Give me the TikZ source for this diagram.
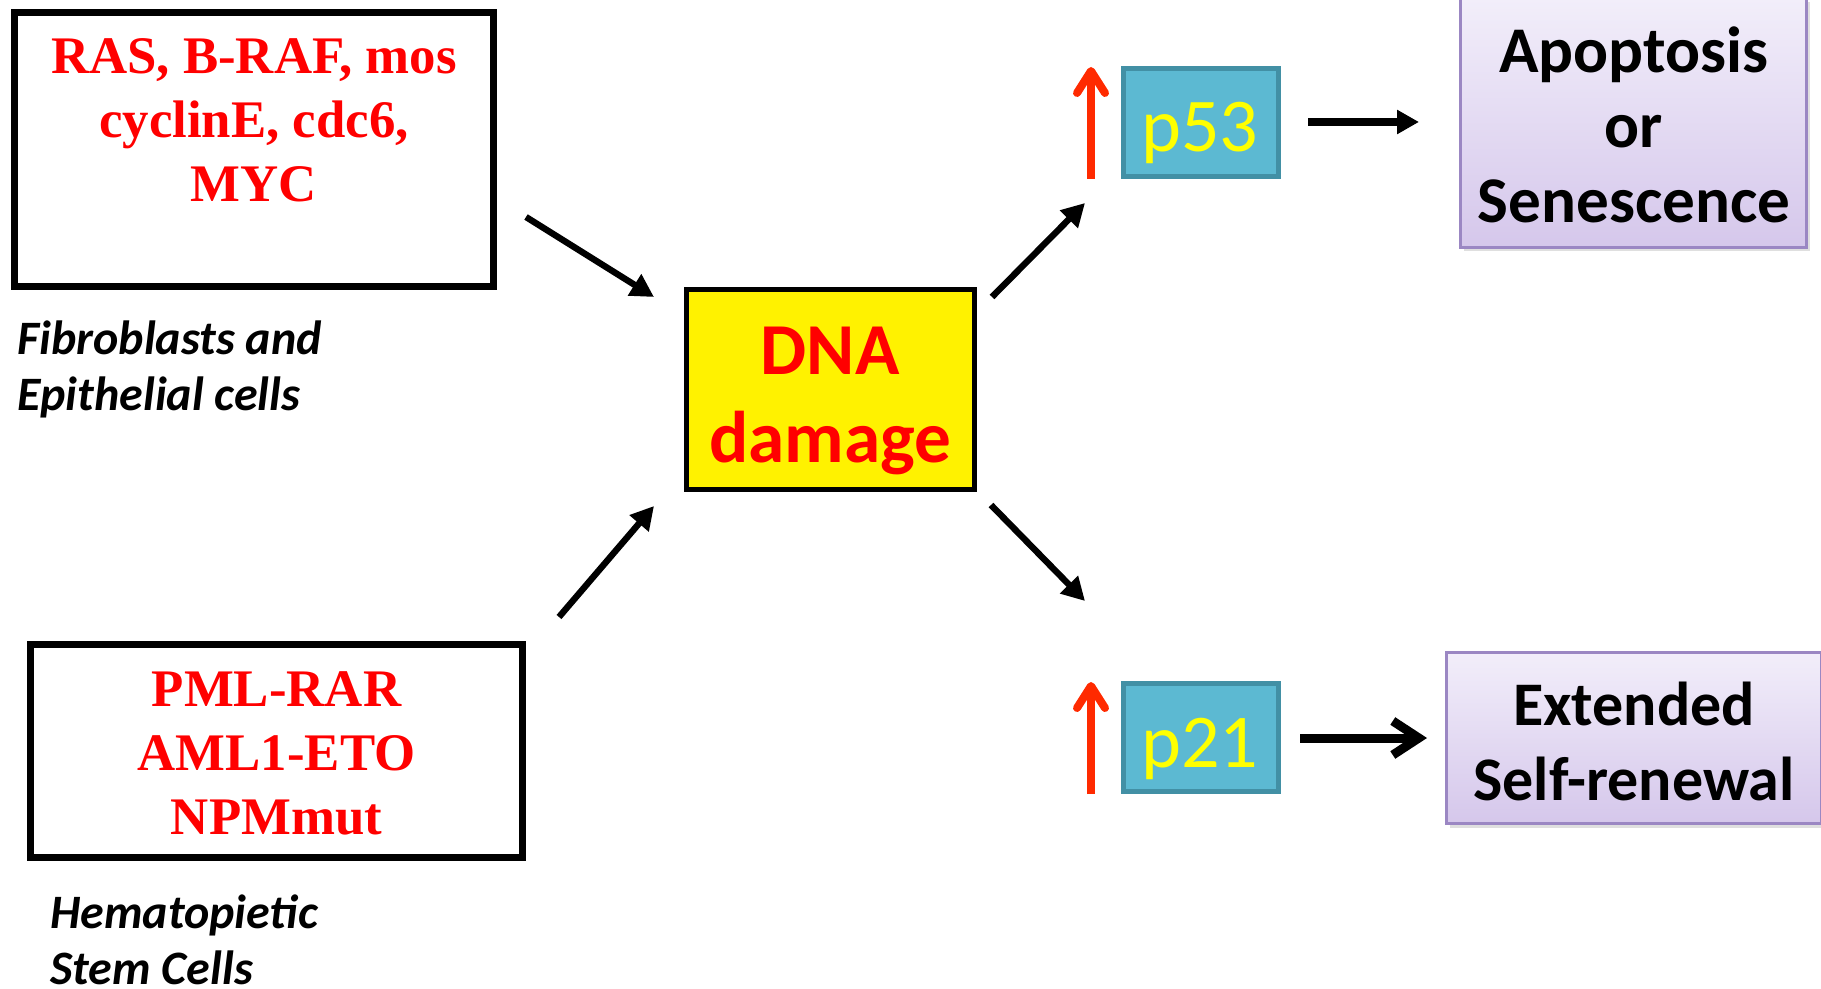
\documentclass[tikz,border=0pt]{standalone}
\usepackage{fontspec}
\setmainfont{Liberation Serif}
\newfontfamily\calib{Carlito}
\usetikzlibrary{arrows.meta,shadows}
\definecolor{redtxt}{RGB}{255,0,0}
\definecolor{uparrow}{RGB}{255,42,0}
\definecolor{pfill}{RGB}{92,185,210}
\definecolor{pborder}{RGB}{66,144,165}
\definecolor{ptxt}{RGB}{255,255,0}
\definecolor{lavtop}{RGB}{242,238,250}
\definecolor{lavbot}{RGB}{213,199,235}
\definecolor{lavborder}{RGB}{155,135,195}
\begin{document}
\begin{tikzpicture}[x=0.5pt,y=-0.5pt,
  oncobox/.style={draw=black, line width=3.5pt, rectangle, inner sep=0pt},
  redlist/.style={font=\fontsize{26.4}{32}\selectfont\bfseries, text=redtxt, align=center, inner sep=0pt},
  dnabox/.style={draw=black, line width=2.5pt, fill=yellow, rectangle, inner sep=0pt},
  dnatxt/.style={font=\calib\bfseries\fontsize{36.6}{44}\selectfont, text=redtxt, align=center, inner sep=0pt},
  pbox/.style={draw=pborder, line width=2.5pt, fill=pfill, rectangle, inner sep=0pt, minimum width=77.5pt, minimum height=54pt},
  ptext/.style={font=\calib\fontsize{38}{44}\selectfont, text=ptxt, inner sep=0pt},
  lavbox/.style={draw=lavborder, line width=1.5pt, top color=lavtop, bottom color=lavbot, rectangle, inner sep=0pt,
     drop shadow={shadow xshift=1.5pt, shadow yshift=-2pt, opacity=0.25}},
  restext/.style={font=\calib\bfseries\fontsize{32.6}{37.5}\selectfont, align=center, inner sep=0pt},
  celllabel/.style={font=\calib\bfseries\itshape\fontsize{24}{28}\selectfont, align=left, inner sep=0pt},
  blackarrow/.style={line width=3.2pt, -{Triangle[length=11.5pt,width=12pt]}},
  outarrow/.style={line width=4pt, -{Triangle[length=11pt,width=11.5pt]}},
  openarrow/.style={line width=4.5pt, -{Straight Barb[length=13pt,width=17pt]}},
  uparr/.style={draw=uparrow, line width=4pt, -{Straight Barb[length=11pt,width=14pt,round]}}
]
\fill[white] (0,0) rectangle (1821,989);
\useasboundingbox (0,0) rectangle (1821,989);

% oncogene boxes
\node[oncobox, minimum width=239.5pt, minimum height=137pt] (box1) at (254,149.5) {};
\node[redlist] (onco1) at (254,120) {RAS, B-RAF, mos\\cyclinE, cdc6,\\MYC};
\node[oncobox, minimum width=246pt, minimum height=106.5pt] (box2) at (276.5,751) {};
\node[redlist] (onco2) at (276.5,753.5) {PML-RAR\\AML1-ETO\\NPMmut};

\node[celllabel, anchor=base west] (lab1) at (17,411) {Fibroblasts and\\Epithelial cells};
\node[celllabel, anchor=base west] (lab2) at (50,984) {Hematopietic\\Stem Cells};

% DNA damage
\node[dnabox, minimum width=144pt, minimum height=100pt] (dna) at (830.5,389.5) {};
\node[dnatxt] (dnat) at (830,401) {DNA\\damage};

% p53 / p21
\node[pbox] (p53) at (1201,122.5) {};
\node[ptext, anchor=base] (p53t) at (1200,152) {p53};
\node[pbox] (p21) at (1201,737) {};
\node[ptext, anchor=base] (p21t) at (1200,767) {p21};

% outcomes
\node[lavbox, minimum width=173pt, minimum height=124.5pt] (apop) at (1633.5,123) {};
\node[restext, anchor=base] (apopt) at (1634,223) {Apoptosis\\or\\Senescence};
\node[lavbox, minimum width=187.5pt, minimum height=85.5pt] (ext) at (1634,738) {};
\node[restext, anchor=base, font=\calib\bfseries\fontsize{31}{37.5}\selectfont] (extt) at (1634,800) {Extended\\Self-renewal};

% connectors
\coordinate (a1s) at (526,217); \coordinate (a1e) at (654,297);
\coordinate (a2s) at (559,617); \coordinate (a2e) at (654,506);
\coordinate (a3s) at (992,297); \coordinate (a3e) at (1085,203);
\coordinate (a4s) at (991,505); \coordinate (a4e) at (1085,601);
\draw[blackarrow] (a1s) -- (a1e);
\draw[blackarrow] (a2s) -- (a2e);
\draw[blackarrow] (a3s) -- (a3e);
\draw[blackarrow] (a4s) -- (a4e);

\coordinate (o1s) at (1308,122); \coordinate (o1e) at (1419,122);
\draw[outarrow] (o1s) -- (o1e);
\coordinate (o2s) at (1300,738); \coordinate (o2e) at (1427,738);
\draw[openarrow] (o2s) -- (o2e);

\coordinate (r1s) at (1091,179); \coordinate (r1e) at (1091,67);
\draw[uparr] (r1s) -- (r1e);
\coordinate (r2s) at (1091,794); \coordinate (r2e) at (1091,682);
\draw[uparr] (r2s) -- (r2e);
\end{tikzpicture}
\end{document}
